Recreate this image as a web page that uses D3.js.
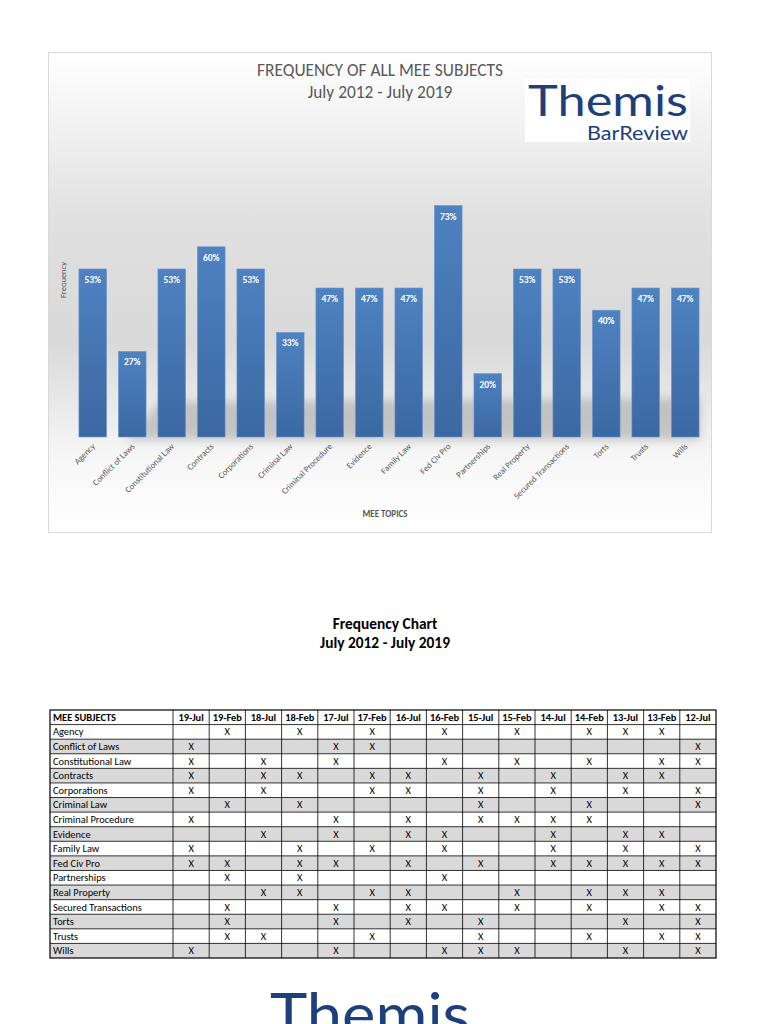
<!DOCTYPE html>
<meta charset="utf-8">
<html lang="en">
<head>
<style>
	body { margin: 0; background: #fff; }
	svg { display: block; font-family: Carlito, "Open Sans", sans-serif; }
	.tick-label { fill: #595959; font-size: 8.7px; }
	.pct { fill: #fff; font-size: 9.5px; font-weight: bold; }
	.cell { font-size: 10.4px; fill: #000; }
	.logo { font-family: Lato, "Open Sans", sans-serif; font-weight: 400; }
</style>
</head>
<body>
<div id="page"></div>
<script src="https://d3js.org/d3.v7.min.js"></script>
<script type="text/javascript">
    // chart data
    var topics = ["Agency", "Conflict of Laws", "Constitutional Law", "Contracts", "Corporations",
        "Criminal Law", "Criminal Procedure", "Evidence", "Family Law", "Fed Civ Pro",
        "Partnerships", "Real Property", "Secured Transactions", "Torts", "Trusts", "Wills"];
    var frequency = [53, 27, 53, 60, 53, 33, 47, 47, 47, 73, 20, 53, 53, 40, 47, 47];

    // table data: which exams each subject showed up on
    var exams = ["19-Jul", "19-Feb", "18-Jul", "18-Feb", "17-Jul", "17-Feb", "16-Jul", "16-Feb",
        "15-Jul", "15-Feb", "14-Jul", "14-Feb", "13-Jul", "13-Feb", "12-Jul"];
    var tested = [
        ["19-Feb", "18-Feb", "17-Feb", "16-Feb", "15-Feb", "14-Feb", "13-Jul", "13-Feb"],
        ["19-Jul", "17-Jul", "17-Feb", "12-Jul"],
        ["19-Jul", "18-Jul", "17-Jul", "16-Feb", "15-Feb", "14-Feb", "13-Feb", "12-Jul"],
        ["19-Jul", "18-Jul", "18-Feb", "17-Feb", "16-Jul", "15-Jul", "14-Jul", "13-Jul", "13-Feb"],
        ["19-Jul", "18-Jul", "17-Feb", "16-Jul", "15-Jul", "14-Jul", "13-Jul", "12-Jul"],
        ["19-Feb", "18-Feb", "15-Jul", "14-Feb", "12-Jul"],
        ["19-Jul", "17-Jul", "16-Jul", "15-Jul", "15-Feb", "14-Jul", "14-Feb"],
        ["18-Jul", "17-Jul", "16-Jul", "16-Feb", "14-Jul", "13-Jul", "13-Feb"],
        ["19-Jul", "18-Feb", "17-Feb", "16-Feb", "14-Jul", "13-Jul", "12-Jul"],
        ["19-Jul", "19-Feb", "18-Feb", "17-Jul", "16-Jul", "15-Jul", "14-Jul", "14-Feb", "13-Jul", "13-Feb", "12-Jul"],
        ["19-Feb", "18-Feb", "16-Feb"],
        ["18-Jul", "18-Feb", "17-Feb", "16-Jul", "15-Feb", "14-Feb", "13-Jul", "13-Feb"],
        ["19-Feb", "17-Jul", "16-Jul", "16-Feb", "15-Feb", "14-Feb", "13-Feb", "12-Jul"],
        ["19-Feb", "17-Jul", "16-Jul", "15-Jul", "13-Jul", "12-Jul"],
        ["19-Feb", "18-Jul", "17-Feb", "15-Jul", "14-Feb", "13-Feb", "12-Jul"],
        ["19-Jul", "17-Jul", "16-Feb", "15-Jul", "15-Feb", "13-Jul", "12-Jul"]
    ];

    var blue = "#1d3f7c";

    var svg = d3.select("#page")
      .append("svg")
        .attr("width", 768)
        .attr("height", 1024);

    var defs = svg.append("defs");

    var bg = defs.append("linearGradient").attr("id", "bg")
        .attr("x1", 0).attr("y1", 0).attr("x2", 0).attr("y2", 1);
    bg.append("stop").attr("offset", "0%").attr("stop-color", "#ffffff");
    bg.append("stop").attr("offset", "35%").attr("stop-color", "#e0e0e0");
    bg.append("stop").attr("offset", "60%").attr("stop-color", "#d9d9d9");
    bg.append("stop").attr("offset", "85%").attr("stop-color", "#f7f7f7");
    bg.append("stop").attr("offset", "100%").attr("stop-color", "#ffffff");

    var barGrad = defs.append("linearGradient").attr("id", "barGrad")
        .attr("x1", 0).attr("y1", 0).attr("x2", 0).attr("y2", 1);
    barGrad.append("stop").attr("offset", "0%").attr("stop-color", "#4e82c1");
    barGrad.append("stop").attr("offset", "100%").attr("stop-color", "#3b68a2");

    defs.append("filter").attr("id", "blur")
        .attr("x", "-20%").attr("y", "-50%").attr("width", "140%").attr("height", "200%")
      .append("feGaussianBlur").attr("stdDeviation", 5);

    // ---- chart panel ----
    svg.append("rect")
        .attr("x", 48.5).attr("y", 52.5)
        .attr("width", 663).attr("height", 480)
        .attr("fill", "url(#bg)")
        .attr("stroke", "#d9d9d9");

    svg.append("text")
        .attr("x", 380).attr("y", 76)
        .attr("text-anchor", "middle")
        .attr("fill", "#595959").attr("font-size", 17.4)
        .text("FREQUENCY OF ALL MEE SUBJECTS");
    svg.append("text")
        .attr("x", 380).attr("y", 98)
        .attr("text-anchor", "middle")
        .attr("fill", "#595959").attr("font-size", 17.4)
        .text("July 2012 - July 2019");

    // logo: one text block, two lines
    svg.append("rect")
        .attr("x", 525).attr("y", 78).attr("width", 165).attr("height", 64)
        .attr("fill", "#fff");
    var logo = svg.append("text")
        .attr("class", "logo")
        .attr("text-anchor", "end")
        .attr("fill", blue);
    logo.append("tspan")
        .attr("x", 688).attr("y", 116)
        .attr("font-size", 43).attr("textLength", 160)
        .attr("lengthAdjust", "spacingAndGlyphs")
        .text("Themis");
    logo.append("tspan")
        .attr("x", 688).attr("y", 140)
        .attr("font-size", 18.5).attr("textLength", 101)
        .attr("lengthAdjust", "spacingAndGlyphs")
        .text("BarReview");

    var x = d3.scaleBand()
        .domain(topics)
        .range([73, 705])
        .paddingInner(0.3)
        .paddingOuter(0.15);

    var y = d3.scaleLinear()
        .domain([0, 100])
        .range([437, 120]);

    // soft floor reflection behind the bars
    svg.append("path")
        .attr("d", "M125,440 L160,402 L700,398 L700,440 Z")
        .attr("fill", "#9a9a9a")
        .attr("opacity", 0.5)
        .attr("filter", "url(#blur)");

    svg.append("g")
      .selectAll("rect")
      .data(topics)
      .enter()
      .append("rect")
        .attr("x", d => x(d))
        .attr("y", (d, i) => y(frequency[i]))
        .attr("width", x.bandwidth())
        .attr("height", (d, i) => y(0) - y(frequency[i]))
        .attr("fill", "url(#barGrad)")
        .attr("stroke", "#6b97cc")
        .attr("stroke-width", 0.6);

    svg.append("g")
      .selectAll("text")
      .data(topics)
      .enter()
      .append("text")
        .attr("class", "pct")
        .attr("text-anchor", "middle")
        .attr("x", d => x(d) + x.bandwidth() / 2)
        .attr("y", (d, i) => y(frequency[i]) + 14)
        .text((d, i) => frequency[i] + "%");

    // rotated category labels
    svg.append("g")
      .selectAll("text")
      .data(topics)
      .enter()
      .append("text")
        .attr("class", "tick-label")
        .attr("text-anchor", "end")
        .attr("transform", d => "translate(" + (x(d) + x.bandwidth() / 2 + 3) + "," + (y(0) + 10) + ") rotate(-45)")
        .text(d => d);

    svg.append("text")
        .attr("x", 385).attr("y", 517)
        .attr("text-anchor", "middle")
        .attr("fill", "#595959").attr("font-size", 9).attr("font-weight", "bold")
        .text("MEE TOPICS");

    svg.append("text")
        .attr("transform", "translate(66,280) rotate(-90)")
        .attr("text-anchor", "middle")
        .attr("fill", "#595959").attr("font-size", 8.5)
        .text("Frequency");

    // ---- frequency table ----
    svg.append("text")
        .attr("x", 385).attr("y", 629)
        .attr("text-anchor", "middle")
        .attr("font-size", 15.4).attr("font-weight", "bold")
        .text("Frequency Chart");
    svg.append("text")
        .attr("x", 385).attr("y", 648)
        .attr("text-anchor", "middle")
        .attr("font-size", 15.4).attr("font-weight", "bold")
        .text("July 2012 - July 2019");

    var rows = d3.scaleBand()
        .domain(["MEE SUBJECTS"].concat(topics))
        .range([710, 958]);

    var cols = d3.scaleBand()
        .domain(exams)
        .range([173, 716]);

    var left = 50;
    var table = svg.append("g");

    // row stripes
    table.selectAll("rect.stripe")
      .data(topics)
      .enter()
      .append("rect")
        .attr("class", "stripe")
        .attr("x", left)
        .attr("y", d => rows(d))
        .attr("width", 716 - left)
        .attr("height", rows.bandwidth())
        .attr("fill", (d, i) => i % 2 === 1 ? "#d9d9d9" : "#ffffff");

    // grid lines
    table.selectAll("line.h")
      .data(rows.domain().slice(1))
      .enter()
      .append("line")
        .attr("x1", left).attr("x2", 716)
        .attr("y1", d => rows(d)).attr("y2", d => rows(d))
        .attr("stroke", "#000").attr("stroke-width", 0.8);

    table.selectAll("line.v")
      .data(exams)
      .enter()
      .append("line")
        .attr("x1", d => cols(d)).attr("x2", d => cols(d))
        .attr("y1", 710).attr("y2", 958)
        .attr("stroke", "#000").attr("stroke-width", 0.8);

    table.append("rect")
        .attr("x", left).attr("y", 710)
        .attr("width", 716 - left).attr("height", 248)
        .attr("fill", "none").attr("stroke", "#000").attr("stroke-width", 1.2);

    var dy = rows.bandwidth() / 2 + 3.6;

    // header
    table.append("text")
        .attr("class", "cell")
        .attr("x", left + 3)
        .attr("y", rows("MEE SUBJECTS") + dy)
        .attr("font-weight", "bold")
        .text("MEE SUBJECTS");

    table.selectAll("text.head")
      .data(exams)
      .enter()
      .append("text")
        .attr("class", "cell")
        .attr("text-anchor", "middle")
        .attr("font-weight", "bold")
        .attr("x", d => cols(d) + cols.bandwidth() / 2)
        .attr("y", rows("MEE SUBJECTS") + dy)
        .text(d => d);

    // subject names
    table.selectAll("text.subject")
      .data(topics)
      .enter()
      .append("text")
        .attr("class", "cell")
        .attr("x", left + 3)
        .attr("y", d => rows(d) + dy)
        .text(d => d);

    // X marks
    topics.forEach(function (t, i) {
        table.selectAll(null)
          .data(tested[i])
          .enter()
          .append("text")
            .attr("class", "cell")
            .attr("text-anchor", "middle")
            .attr("fill", "#333")
            .attr("x", d => cols(d) + cols.bandwidth() / 2)
            .attr("y", rows(t) + dy)
            .text("X");
    });

    // bottom logo, cut off by the page edge
    svg.append("text")
        .attr("class", "logo")
        .attr("x", 370).attr("y", 1036)
        .attr("text-anchor", "middle")
        .attr("fill", blue).attr("font-size", 60).attr("textLength", 200)
        .attr("lengthAdjust", "spacingAndGlyphs")
        .text("Themis");
</script>
</body>
</html>
